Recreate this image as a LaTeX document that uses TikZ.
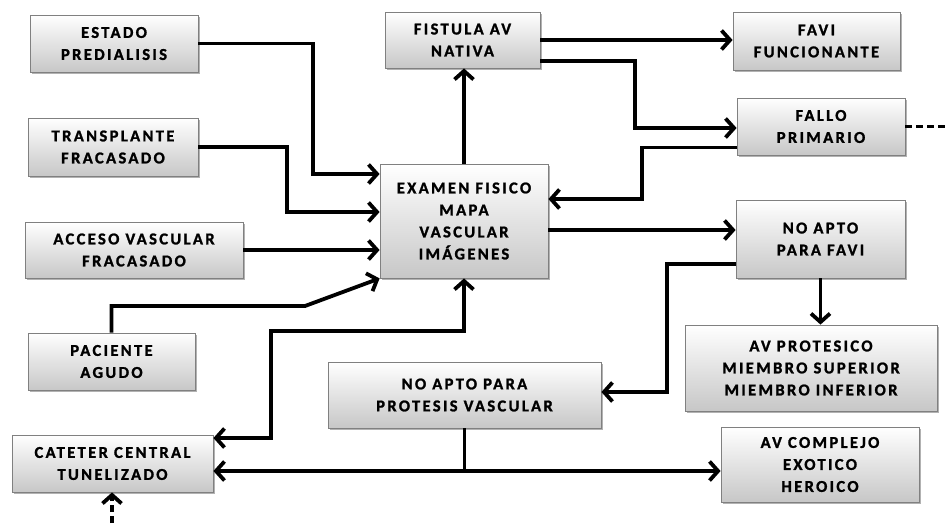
\documentclass[tikz,border=0pt]{standalone}
\usepackage{fontspec}
\setmainfont{Carlito}[LetterSpace=14, BoldFeatures={FakeBold=1.3}]
\usetikzlibrary{arrows.meta,shadows}
\begin{document}
\begin{tikzpicture}[x=1pt,y=-1pt,
  box/.style={draw=black!50, line width=0.8pt, top color=white, bottom color=black!22,
    drop shadow={shadow xshift=1.8pt, shadow yshift=-1.8pt, opacity=0.3, fill=black},
    inner sep=0pt, align=center,
    font=\fontsize{16.6}{22}\selectfont\bfseries},
  conn/.style={line width=3.8pt, black},
  tip/.tip={Straight Barb[length=8.5pt,width=19pt]},
  arr/.style={conn, -tip},
  arrboth/.style={conn, tip-tip},
  dashline/.style={conn, dash pattern=on 7pt off 4pt}
]
\useasboundingbox[fill=white] (0,0) rectangle (946,523);

\node[box, minimum width=168pt, minimum height=57pt] (est) at (114,43.5) {ESTADO\\PREDIALISIS};
\node[box, minimum width=170pt, minimum height=58pt] (tra) at (113,147) {TRANSPLANTE\\FRACASADO};
\node[box, minimum width=218pt, minimum height=56pt] (acc) at (134,250) {ACCESO VASCULAR\\FRACASADO};
\node[box, minimum width=167pt, minimum height=57pt] (pac) at (111.5,361.5) {PACIENTE\\AGUDO};
\node[box, minimum width=201pt, minimum height=57pt] (cat) at (112.5,463.5) {CATETER CENTRAL\\TUNELIZADO};
\node[box, minimum width=168pt, minimum height=114pt] (exa) at (464,221) {EXAMEN FISICO\\MAPA\\VASCULAR\\IMÁGENES};
\node[box, minimum width=155pt, minimum height=56pt] (fis) at (462.5,40) {FISTULA AV\\NATIVA};
\node[box, minimum width=167pt, minimum height=58pt] (fav) at (816.5,41) {FAVI\\FUNCIONANTE};
\node[box, minimum width=168pt, minimum height=57pt] (fal) at (821,126.5) {FALLO\\PRIMARIO};
\node[box, minimum width=169pt, minimum height=78pt] (nof) at (820.5,239) {NO APTO\\PARA FAVI};
\node[box, minimum width=252pt, minimum height=86pt] (avp) at (811,368) {AV PROTESICO\\MIEMBRO SUPERIOR\\MIEMBRO INFERIOR};
\node[box, minimum width=273pt, minimum height=66pt] (nop) at (464.5,395) {NO APTO PARA\\PROTESIS VASCULAR};
\node[box, minimum width=198pt, minimum height=75pt] (avc) at (820,464.5) {AV COMPLEJO\\EXOTICO\\HEROICO};

\coordinate (e1) at (313,174);
\coordinate (t1) at (287,212);
\coordinate (p1) at (305,306);
\coordinate (c1) at (271,438);
\coordinate (c2) at (464,331);
\coordinate (f2) at (635,128);
\coordinate (f3) at (642,199);
\coordinate (n1) at (667,392);
\coordinate (n2) at (463,471);
\coordinate (r1) at (946,126.5);
\coordinate (b1) at (112,523);

\draw[arr] (est.east) -| (e1) -- (e1 -| exa.west);
\draw[arr] (tra.east) -| (t1) -- (t1 -| exa.west);
\draw[arr] (acc.east) -- (acc.east -| exa.west);
\draw[arr] (pac.north) |- (p1) -- (exa.south west);
\draw[arrboth] (c1 -| cat.east) -- (c1) |- (c2) -- (c2 |- exa.south);
\draw[arr] (exa.north) -- (exa.north |- fis.south);
\draw[arr] (fis.east) -- (fis.east -| fav.west);
\draw[arr] ([yshift=-21pt]fis.east) -| (f2) -- (f2 -| fal.west);
\draw[arr] ([yshift=-21pt]fal.west) -| (f3) -- (f3 -| exa.east);
\draw[arr] ([yshift=-9pt]exa.east) coordinate (n0) -- (n0 -| nof.west);
\draw[arr] (nof.south) -- (nof.south |- avp.north);
\draw[arr] ([yshift=-25pt]nof.west) -| (n1) -- (n1 -| nop.east);
\draw[arrboth] (n2 -| cat.east) -- (n2 -| avc.west);
\draw[conn] (nop.south) -- (nop.south |- n2);
\draw[dashline] (fal.east) -- (r1);
\draw[dashline, -tip] (b1) -- (b1 |- cat.south);
\end{tikzpicture}
\end{document}
